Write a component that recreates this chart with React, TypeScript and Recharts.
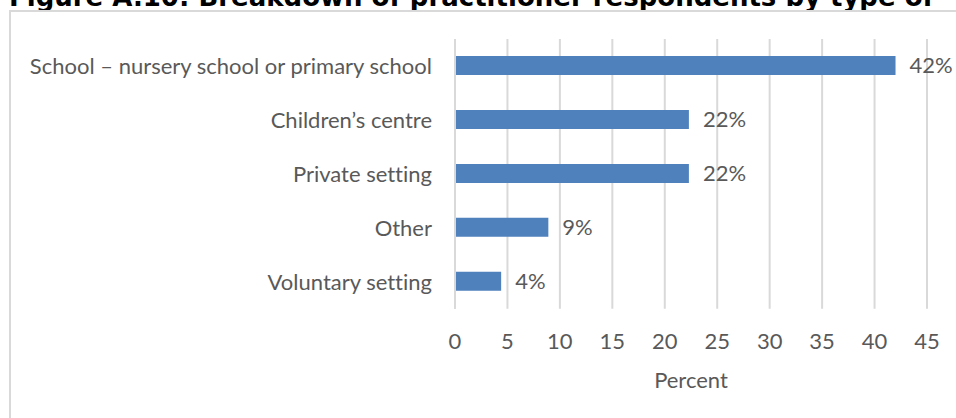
import { Bar, BarChart, CartesianGrid, LabelList, XAxis, YAxis } from "recharts";

const categories = [
  "School – nursery school or primary school",
  "Children’s centre",
  "Private setting",
  "Other",
  "Voluntary setting",
];
const percents = [42.0, 22.3, 22.3, 8.9, 4.4];
const xTicks = [0, 5, 10, 15, 20, 25, 30, 35, 40, 45];

const title = "Figure A.10: Breakdown of practitioner respondents by type of";

const textFont = "Lato, 'Open Sans', sans-serif";
const textSize = 22;
const textColor = "#595959";
const gridColor = "#d9d9d9";
const noLigatures = { fontVariantLigatures: "none" as const };

const data = categories.map((name, i) => ({ name, value: percents[i] }));

export default function App() {
  return (
    <div
      style={{
        position: "fixed",
        left: 0,
        top: 0,
        width: 956,
        height: 418,
        overflow: "hidden",
        background: "#fff",
      }}
    >
      {/* title is cropped at the top in the reference */}
      <div
        style={{
          position: "absolute",
          left: 9,
          top: -16,
          fontFamily: "'DejaVu Sans', Verdana, sans-serif",
          fontWeight: "bold",
          fontSize: 26,
          lineHeight: "26px",
          whiteSpace: "nowrap",
          color: "#000",
        }}
      >
        {title}
      </div>
      <div
        style={{
          position: "absolute",
          left: 9,
          top: 10,
          width: 1000,
          height: 500,
          border: `2px solid ${gridColor}`,
        }}
      />
      <div style={{ position: "absolute", left: 0, top: 0, ...noLigatures }}>
        <BarChart
          width={956}
          height={418}
          data={data}
          layout="vertical"
          margin={{ top: 39, right: 29, left: 0, bottom: 0 }}
        >
          <CartesianGrid horizontal={false} stroke={gridColor} strokeWidth={2} />
          <XAxis
            type="number"
            domain={[0, 45]}
            ticks={xTicks}
            height={109.25}
            axisLine={false}
            tickLine={false}
            tickSize={0}
            tickMargin={25}
            tick={{ fill: textColor, fontSize: textSize, fontFamily: textFont }}
            label={{
              value: "Percent",
              position: "insideBottom",
              offset: 30,
              fill: textColor,
              fontSize: textSize,
              fontFamily: textFont,
            }}
          />
          <YAxis
            type="category"
            dataKey="name"
            width={455}
            axisLine={{ stroke: gridColor, strokeWidth: 2 }}
            tickLine={false}
            tickSize={0}
            tickMargin={23}
            interval={0}
            tick={{ fill: textColor, fontSize: textSize, fontFamily: textFont }}
          />
          <Bar dataKey="value" fill="#4f81bd" barSize={19} isAnimationActive={false}>
            <LabelList
              dataKey="value"
              position="right"
              offset={14}
              formatter={(v: number) => `${Math.round(v)}%`}
              fill={textColor}
              fontSize={textSize}
              fontFamily={textFont}
            />
          </Bar>
        </BarChart>
      </div>
    </div>
  );
}
